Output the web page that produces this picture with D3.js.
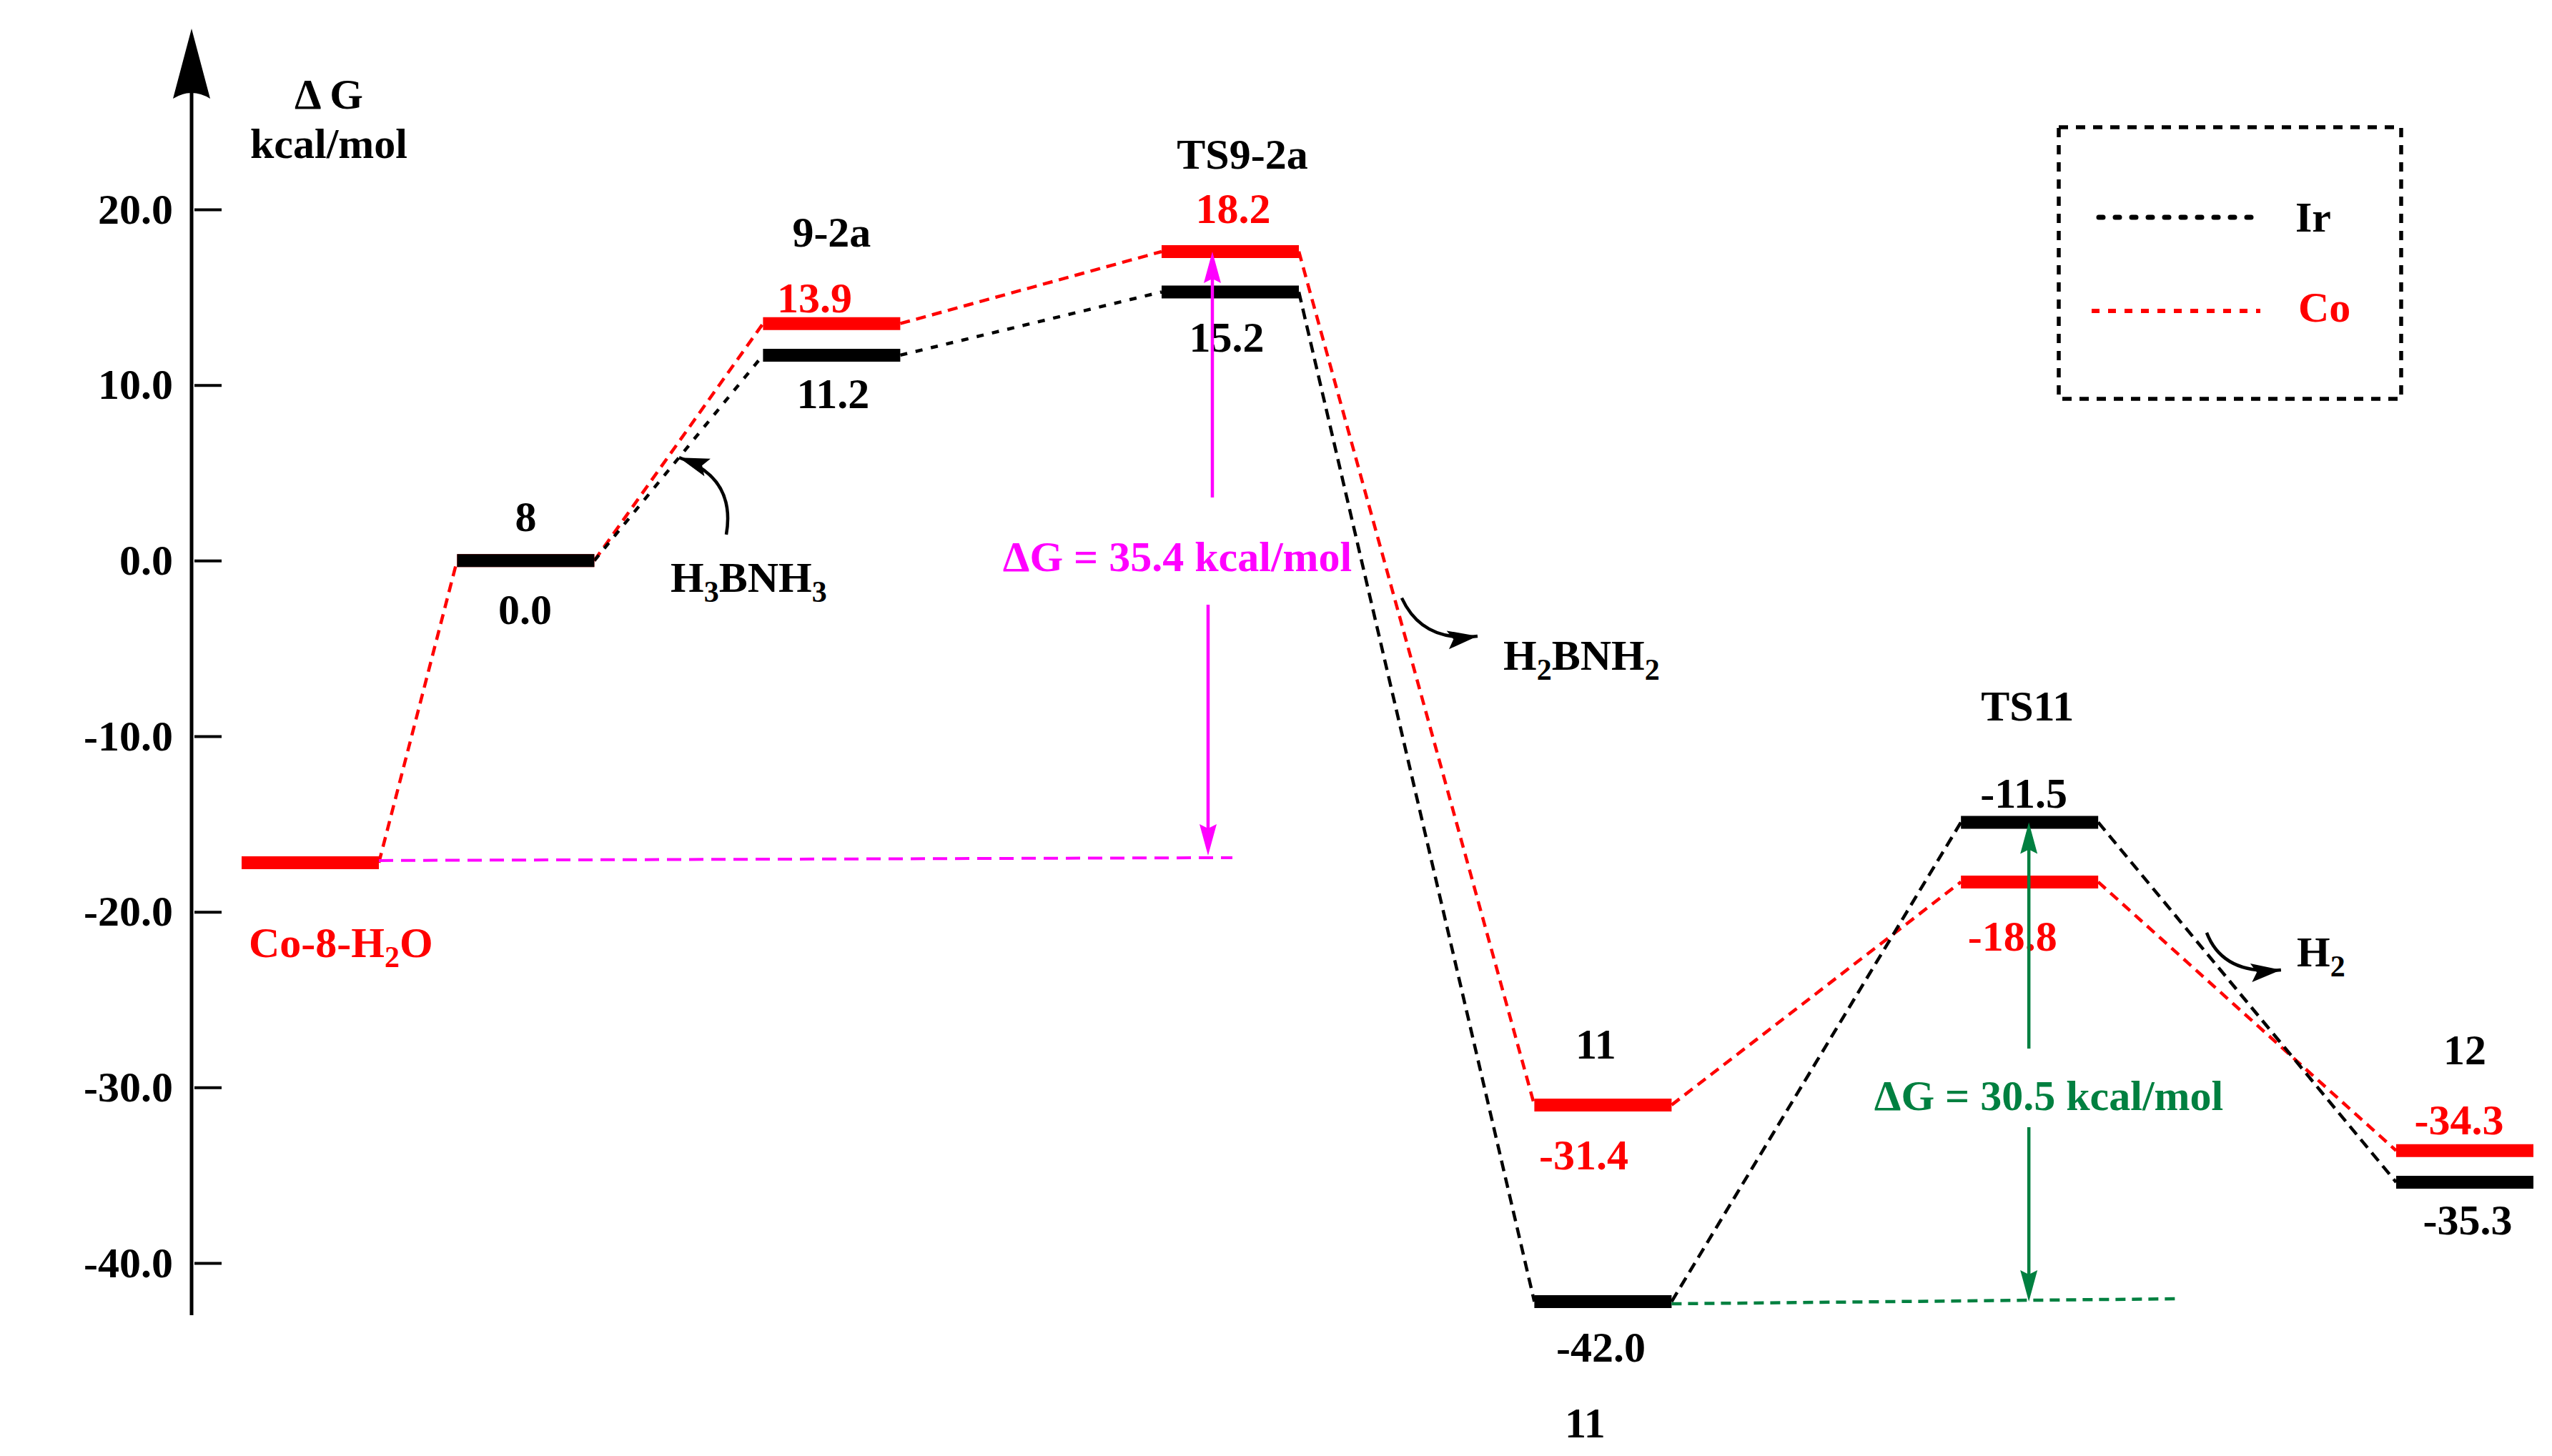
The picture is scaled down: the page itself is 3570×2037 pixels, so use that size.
<!DOCTYPE html>
<html>
<head>
<meta charset="utf-8">
<script src="https://cdn.jsdelivr.net/npm/d3@7"></script>
<style>
body { margin: 0; background: #fff; }
text { font-family: "Liberation Serif", "Times New Roman", serif; font-weight: bold; }
</style>
</head>
<body>
<div id="chart"></div>
<script>
// stages along the reaction path
var stages = ["Co-8-H2O", "8", "9-2a", "TS9-2a", "11", "TS11", "12"];
var reactionCoord = [0, 1, 2.42, 4.27, 6, 7.98, 10];

// printed free energies, kcal/mol
var irValue = [null, 0.0, 11.2, 15.2, -42.0, -11.5, -35.3];
var coValue = [-17.2, 0.0, 13.9, 18.2, -31.4, -18.8, -34.3];

// height at which each level bar sits in the figure
var irLevel = [null, 0.0, 11.7, 15.3, -42.2, -14.9, -35.4];
var coLevel = [-17.2, 0.0, 13.5, 17.6, -31.0, -18.3, -33.6];

var yTicks = [20, 10, 0, -10, -20, -30, -40];
var barrierValue = [35.4, 30.5];
var legendNames = ["Ir", "Co"];

var width = 3570, height = 2037;
var RED = '#ff0000', MAGENTA = '#ff00ff', GREEN = '#008040';

var svg = d3.select('#chart').append('svg')
    .attr('width', width)
    .attr('height', height);
svg.append('rect').attr('width', width).attr('height', height).attr('fill', '#fff');

var x = d3.scaleLinear().domain([0, 10]).range([434, 3448]);
var y = d3.scaleLinear().domain([-40, 20]).range([1767, 293]);
var halfBar = 96;
var axisX = 268;

// ---- y axis ----
var axis = d3.axisLeft(y)
    .tickValues(yTicks)
    .tickSizeInner(-42)
    .tickSizeOuter(0)
    .tickPadding(26)
    .tickFormat(d => d.toFixed(1));
var gAxis = svg.append('g')
    .attr('transform', `translate(${axisX},0)`)
    .call(axis);
gAxis.select('.domain').remove();
gAxis.selectAll('.tick line')
    .attr('x1', 4)
    .attr('stroke', '#000')
    .attr('stroke-width', 4);
gAxis.selectAll('.tick text')
    .attr('fill', '#000')
    .attr('font-size', 60)
    .attr('font-family', '"Liberation Serif", serif')
    .attr('font-weight', 'bold');

svg.append('line')
    .attr('x1', axisX).attr('x2', axisX)
    .attr('y1', 125).attr('y2', 1840)
    .attr('stroke', '#000').attr('stroke-width', 5);
svg.append('path')
    .attr('d', `M${axisX},40 L${axisX + 26},138 Q${axisX},122 ${axisX - 26},138 Z`)
    .attr('fill', '#000');

svg.append('text').attr('x', 460).attr('y', 152)
    .attr('text-anchor', 'middle').attr('font-size', 60).text('Δ G');
svg.append('text').attr('x', 460).attr('y', 221)
    .attr('text-anchor', 'middle').attr('font-size', 60).text('kcal/mol');

// ---- connectors between levels ----
function connectors(levels) {
    var segs = [];
    for (var i = 0; i < levels.length - 1; i++) {
	if (levels[i] === null || levels[i + 1] === null) continue;
	segs.push({
	    i: i,
	    x1: x(reactionCoord[i]) + halfBar, y1: y(levels[i]),
	    x2: x(reactionCoord[i + 1]) - halfBar, y2: y(levels[i + 1])
	});
    }
    return segs;
}

svg.append('g').selectAll('line')
    .data(connectors(coLevel))
    .join('line')
    .attr('x1', d => d.x1).attr('y1', d => d.y1)
    .attr('x2', d => d.x2).attr('y2', d => d.y2)
    .attr('stroke', RED).attr('stroke-width', 4.5)
    .attr('stroke-dasharray', '14,9');

svg.append('g').selectAll('line')
    .data(connectors(irLevel))
    .join('line')
    .attr('x1', d => d.x1).attr('y1', d => d.y1)
    .attr('x2', d => d.x2).attr('y2', d => d.y2)
    .attr('stroke', '#000').attr('stroke-width', 4.5)
    .attr('stroke-dasharray', d => d.i < 3 ? '10,12' : '15,9');

// ---- level bars ----
function bars(levels, colour) {
    var pts = levels.map((v, i) => ({i: i, v: v})).filter(d => d.v !== null);
    svg.append('g').selectAll('line')
	.data(pts)
	.join('line')
	.attr('x1', d => x(reactionCoord[d.i]) - halfBar)
	.attr('x2', d => x(reactionCoord[d.i]) + halfBar)
	.attr('y1', d => y(d.v)).attr('y2', d => y(d.v))
	.attr('stroke', colour).attr('stroke-width', 18);
}
bars(coLevel, RED);
bars(irLevel, '#000');

// ---- text with H subscripts ----
function formula(t, str) {
    var runs = [];
    for (var k = 0; k < str.length; k++) {
	var c = str[k];
	var sub = /\d/.test(c) && k > 0 && str[k - 1] === 'H';
	if (runs.length && runs[runs.length - 1].sub === sub) runs[runs.length - 1].t += c;
	else runs.push({t: c, sub: sub});
    }
    var shift = 0;
    runs.forEach(r => {
	var off = r.sub ? 14 : 0;
	t.append('tspan')
	    .attr('dy', off - shift)
	    .attr('font-size', r.sub ? 42 : null)
	    .text(r.t);
	shift = off;
    });
    return t;
}

function label(str, px, py, colour, anchor) {
    var t = svg.append('text')
	.attr('x', px).attr('y', py)
	.attr('font-size', 60)
	.attr('fill', colour || '#000')
	.attr('text-anchor', anchor || 'middle');
    return formula(t, str);
}

// [series, stage, kind, dx, dy] ; kind: name / value
var barLabels = [
    ['co', 0, 'name', -86, 132],
    ['ir', 1, 'name', 0, -41], ['ir', 1, 'value', -1, 89],
    ['co', 2, 'name', 0, -108], ['co', 2, 'value', -24, -16], ['ir', 2, 'value', 2, 74],
    ['co', 3, 'name', 17, -116], ['co', 3, 'value', 4, -40], ['ir', 3, 'value', -5, 84],
    ['co', 4, 'name', -10, -65], ['co', 4, 'value', -27, 90], ['ir', 4, 'value', -3, 84],
    ['ir', 4, 'name', -25, 190],
    ['ir', 5, 'name', -3, -142], ['ir', 5, 'value', -8, -20], ['co', 5, 'value', -24, 96],
    ['co', 6, 'name', 0, -121], ['co', 6, 'value', -8, -23], ['ir', 6, 'value', 4, 73]
];
barLabels.forEach(([s, i, kind, dx, dy]) => {
    var lv = s === 'co' ? coLevel : irLevel;
    var px = x(reactionCoord[i]) + dx;
    var py = y(lv[i]) + dy;
    if (kind === 'name') {
	var colour = i === 0 ? RED : '#000';
	label(stages[i], px, py, colour, i === 0 ? 'start' : 'middle');
    } else {
	var v = s === 'co' ? coValue[i] : irValue[i];
	label(v.toFixed(1), px, py, s === 'co' ? RED : '#000');
    }
});

// ---- barrier arrows ----
function head(px, tip, dir, colour) {
    // dir = -1 points up, +1 points down
    svg.append('path')
	.attr('d', `M${px},${tip} L${px - 12},${tip - dir * 44} L${px},${tip - dir * 38} L${px + 12},${tip - dir * 44} Z`)
	.attr('fill', colour);
}
function vline(px, ya, yb, colour) {
    svg.append('line')
	.attr('x1', px).attr('x2', px).attr('y1', ya).attr('y2', yb)
	.attr('stroke', colour).attr('stroke-width', 4.5);
}

// Co: from Co-8-H2O up to TS9-2a
var mx = x(reactionCoord[3]) - 25;
svg.append('line')
    .attr('x1', x(reactionCoord[0]) + halfBar).attr('y1', y(coLevel[0]) - 3)
    .attr('x2', x(reactionCoord[3]) + 3).attr('y2', y(coLevel[0]) - 7)
    .attr('stroke', MAGENTA).attr('stroke-width', 4)
    .attr('stroke-dasharray', '20,11');
vline(mx, 696, y(coLevel[3]) + 20, MAGENTA);
head(mx, y(coLevel[3]), -1, MAGENTA);
vline(mx - 6, 846, y(coLevel[0]) - 30, MAGENTA);
head(mx - 6, y(coLevel[0]) - 10, 1, MAGENTA);
svg.append('text').attr('x', 1647).attr('y', 799)
    .attr('text-anchor', 'middle').attr('font-size', 60).attr('fill', MAGENTA)
    .text('ΔG = ' + barrierValue[0].toFixed(1) + ' kcal/mol');

// Ir: from 11 up to TS11
var gx = x(reactionCoord[5]) - 1;
svg.append('line')
    .attr('x1', x(reactionCoord[4]) + halfBar).attr('y1', y(irLevel[4]) + 3)
    .attr('x2', 3045).attr('y2', y(irLevel[4]) - 4)
    .attr('stroke', GREEN).attr('stroke-width', 4.5)
    .attr('stroke-dasharray', '14,9');
vline(gx, 1467, y(irLevel[5]) + 20, GREEN);
head(gx, y(irLevel[5]), -1, GREEN);
vline(gx, 1577, y(irLevel[4]) - 20, GREEN);
head(gx, y(irLevel[4]), 1, GREEN);
svg.append('text').attr('x', 2866).attr('y', 1553)
    .attr('text-anchor', 'middle').attr('font-size', 60).attr('fill', GREEN)
    .text('ΔG = ' + barrierValue[1].toFixed(1) + ' kcal/mol');

// ---- released / added molecules ----
svg.append('defs').append('marker')
    .attr('id', 'ah')
    .attr('markerUnits', 'userSpaceOnUse')
    .attr('markerWidth', 60).attr('markerHeight', 60)
    .attr('viewBox', '-50 -25 60 50')
    .attr('refX', 0).attr('refY', 0)
    .attr('orient', 'auto')
    .append('path')
    .attr('d', 'M0,0 L-42,-13 L-34,0 L-42,13 Z')
    .attr('fill', '#000');

var P = (c, v) => x(c) + ',' + y(v);
var curves = [
    [[1.931, 1.48], [1.977, 4.74], [1.712, 5.87]],
    [[5.066, -2.13], [5.163, -4.70], [5.418, -4.30]],
    [[8.802, -21.19], [8.878, -23.63], [9.147, -23.31]]
];
svg.append('g').selectAll('path')
    .data(curves)
    .join('path')
    .attr('d', d => `M${P(...d[0])} Q${P(...d[1])} ${P(...d[2])}`)
    .attr('fill', 'none')
    .attr('stroke', '#000').attr('stroke-width', 4.5)
    .attr('marker-end', 'url(#ah)');

label('H3BNH3', 938, 828, '#000', 'start');
label('H2BNH2', 2103, 937, '#000', 'start');
label('H2', 3213, 1352, '#000', 'start');

// ---- legend ----
svg.append('rect')
    .attr('x', 2880).attr('y', 178)
    .attr('width', 479).attr('height', 380)
    .attr('fill', 'none')
    .attr('stroke', '#000').attr('stroke-width', 5.5)
    .attr('stroke-dasharray', '13,11');
svg.append('line')
    .attr('x1', 2936).attr('x2', 3152).attr('y1', 304).attr('y2', 304)
    .attr('stroke', '#000').attr('stroke-width', 7)
    .attr('stroke-linecap', 'round')
    .attr('stroke-dasharray', '6,17');
svg.append('line')
    .attr('x1', 2926).attr('x2', 3162).attr('y1', 435).attr('y2', 435)
    .attr('stroke', RED).attr('stroke-width', 6)
    .attr('stroke-dasharray', '11,12');
label(legendNames[0], 3211, 324, '#000', 'start');
label(legendNames[1], 3215, 450, RED, 'start');
</script>
</body>
</html>
